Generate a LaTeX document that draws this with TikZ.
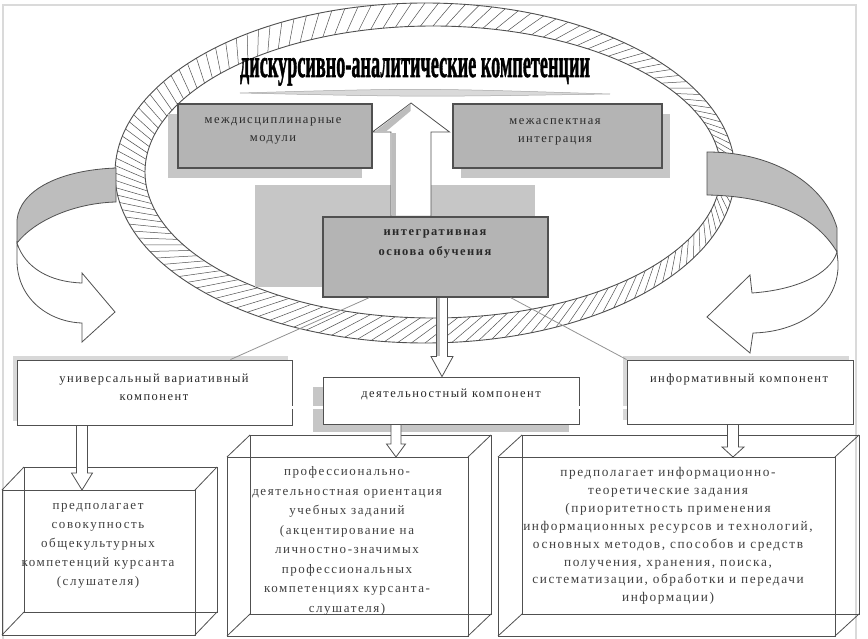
\documentclass[tikz,border=0pt]{standalone}
\usepackage{fontspec}
\usepackage{graphicx}
\setmainfont{Liberation Serif}
\newfontfamily\spc[LetterSpace=12]{Liberation Serif}
\newfontfamily\ttl[FakeBold=1.6]{Liberation Serif}
\usetikzlibrary{calc}
\definecolor{boxgrey}{HTML}{B4B4B4}
\definecolor{shadegrey}{HTML}{C6C6C6}
\definecolor{lightshade}{HTML}{D8D8D8}
\definecolor{edge}{HTML}{505050}
\definecolor{txt}{HTML}{2A2A2A}
\definecolor{txtb}{HTML}{404040}
\definecolor{framec}{HTML}{DADADA}
\definecolor{arrowgrey}{HTML}{BDBDBD}
\newcommand\downblk[5]{\path[blk] let \p1=(#1), \p2=(#2) in
  (\x2-#3pt,\y1) -- (\x2-#3pt,\y2+#5pt) -- (\x2-#4pt,\y2+#5pt) -- (\x2,\y2)
  -- (\x2+#4pt,\y2+#5pt) -- (\x2+#3pt,\y2+#5pt) -- (\x2+#3pt,\y1) -- cycle;}
\newcommand\upblk[5]{\path[blk] let \p1=(#1), \p2=(#2) in
  (\x2-#3pt,\y1) -- (\x2-#3pt,\y2-#5pt) -- (\x2-#4pt,\y2-#5pt) -- (\x2,\y2)
  -- (\x2+#4pt,\y2-#5pt) -- (\x2+#3pt,\y2-#5pt) -- (\x2+#3pt,\y1) -- cycle;}
\newcommand\cuboid[7]{%
  \draw[wire] (#1,#2) rectangle (#3,#4);
  \draw[wire] (#1+#5,#2+#6) rectangle (#3+#5,#4+#6);
  \draw[wire] (#1,#2) -- ++(#5,#6) (#3,#2) -- ++(#5,#6) (#1,#4) -- ++(#5,#6) (#3,#4) -- ++(#5,#6);
  \coordinate (#7) at ({(#1+#3)/2},#2);}
\begin{document}
\begin{tikzpicture}[x=1pt,y=-1pt,
  greybox/.style={draw=edge, fill=boxgrey, line width=1.2pt, inner sep=0pt},
  shadowbox/.style={fill=shadegrey, draw=none, inner sep=0pt},
  lshadow/.style={fill=lightshade, draw=none, inner sep=0pt},
  whitebox/.style={draw=edge, fill=white, line width=0.9pt, inner sep=0pt},
  lbl/.style={font=\spc\fontsize{12.5}{18}\selectfont, text=txt, align=center, inner sep=0pt},
  blbl/.style={font=\spc\fontsize{13}{19}\selectfont, text=txtb, align=center, inner sep=0pt},
  blk/.style={draw=edge, fill=white, line width=0.8pt, line join=miter},
  wire/.style={draw=edge, line width=0.8pt},
  thinln/.style={draw=gray!85, line width=0.8pt},
  dbl/.style={draw=gray!60!black, double=white, double distance=2.5pt, line width=0.6pt},
  curv/.style={draw=edge, line width=0.8pt}
]
\useasboundingbox (0,0) rectangle (868,639);
\fill[white] (0,0) rectangle (868,639);
% frame
\draw[framec, line width=2pt] (3,639) -- (3,5) -- (856,5) -- (856,639);

% ring (hatched ellipse)
\fill[white, even odd rule] (425,173) ellipse [x radius=310, y radius=170]
  (433,172) ellipse [x radius=288, y radius=146];
\foreach \a in {0,2.5,...,357.5}{
  \draw[edge, line width=0.5pt] ({433+288*cos(\a)},{172+146*sin(\a)}) -- ({425+310*cos(\a+5)},{173+170*sin(\a+5)});
}
\draw[edge, line width=0.9pt] (425,173) ellipse [x radius=310, y radius=170];
\draw[edge, line width=0.9pt] (433,172) ellipse [x radius=288, y radius=146];

% title
\node[anchor=base, inner sep=0pt] (title) at (415,77) {\resizebox{350pt}{19pt}{\ttl\bfseries дискурсивно-аналитические компетенции}};
\draw[gray!70, fill=gray!30, line width=0.5pt] (240,93) .. controls (420,88) .. (610,94) .. controls (420,97) .. (240,93) -- cycle;

% top grey boxes
\node[shadowbox, minimum width=194, minimum height=64] at (265,146) {};
\node[greybox, minimum width=194, minimum height=64] (m1) at (275,136) {};
\node[lbl] at (273,131) {междисциплинарные\\модули};
\node[shadowbox, minimum width=209, minimum height=64] at (565.5,146) {};
\node[greybox, minimum width=209, minimum height=64] (m2) at (557.5,136) {};
\node[lbl] at (555,132) {межаспектная\\интеграция};

% grey panel behind the central box
\fill[shadegrey] (255,185) rectangle (535,287);

% central box and up arrow
\node[greybox, minimum width=225, minimum height=80] (cent) at (435.5,257) {};
\coordinate (uptip) at (411,103);
\upblk{uptip |- cent.north}{uptip}{20}{38.5}{29}
\fill[arrowgrey] (392,133) rectangle (396,216);
\fill[arrowgrey] (375,131.5) -- (410.5,104) -- (410.5,111) -- (386,131.5) -- cycle;
\node[greybox, minimum width=225, minimum height=80] at (435.5,257) {};
\node[lbl, font=\spc\bfseries\fontsize{12.5}{20}\selectfont] at (435,244) {интегративная\\основа обучения};

% middle boxes
\node[lshadow, minimum width=275, minimum height=65] at (150.5,388.5) {};
\node[whitebox, minimum width=275, minimum height=65] (uni) at (154.5,392.5) {};
\node[lbl] at (154,387) {универсальный вариативный\\компонент};
\node[shadowbox, minimum width=256, minimum height=45] at (441,409.5) {};
\node[whitebox, minimum width=256, minimum height=47] (deya) at (451,400.5) {};
\node[lbl] at (451,394) {деятельностный компонент};
\node[lshadow, minimum width=226, minimum height=64] at (736,388) {};
\node[whitebox, minimum width=226, minimum height=64] (info) at (740,392) {};
\node[lbl] at (739,379) {информативный компонент};

\draw[dbl] ([yshift=-7pt]deya.west) -- ([yshift=-7pt]deya.west -| uni.east);
\draw[dbl] ([yshift=-7pt]deya.east) -- ([yshift=-7pt]deya.east -| info.west);

% thin lines from central box
\draw[thinln] ([xshift=47pt]cent.south west) -- ([xshift=-62pt]uni.north east);
\draw[thinln] ([xshift=-38pt]cent.south east) -- (info.north west);

% central down arrow
\coordinate (dtip) at ([xshift=-9pt]deya.north);
\downblk{dtip |- cent.south}{dtip}{5.5}{11}{20}
\fill[arrowgrey] (436.9,298) rectangle (440,356);

% left curved arrow
\path[curv, fill=arrowgrey] (116,168) .. controls (60,170) and (20,190) .. (17,220)
  -- (17,243) .. controls (35,220) and (75,203) .. (116,202) -- cycle;
\path[curv, fill=white] (17,243) -- (17,262) .. controls (18,300) and (50,322) .. (82,323)
  -- (82,342) -- (115,312) -- (82,273) -- (82,283)
  .. controls (50,282) and (25,268) .. (17,243) -- cycle;

% right curved arrow
\path[curv, fill=arrowgrey] (707,152) .. controls (775,152) and (825,185) .. (837,228)
  -- (837,252) .. controls (815,215) and (770,196) .. (707,195) -- cycle;
\path[curv, fill=white] (837,252) -- (838,262) .. controls (840,305) and (800,332) .. (753,333)
  -- (750,353) -- (707,317) -- (750,275) -- (752,293)
  .. controls (795,290) and (830,275) .. (837,252) -- cycle;

% 3D boxes
\cuboid{2}{490}{195}{635}{22}{-23}{c1}
\cuboid{227}{457}{468}{636}{23}{-22}{c2}
\cuboid{498}{457}{835}{636}{24}{-22}{c3}

\node[blbl] at (98,546) {предполагает\\совокупность\\общекультурных\\компетенций курсанта\\(слушателя)};
\node[blbl, font=\spc\fontsize{13}{19.5}\selectfont] at (347,541) {профессионально-\\деятельностная ориентация\\учебных заданий\\(акцентирование на\\личностно-значимых\\профессиональных\\компетенциях курсанта-\\слушателя)};
\node[blbl, font=\spc\fontsize{13.3}{17.9}\selectfont] at (668,536) {предполагает информационно-\\теоретические задания\\(приоритетность применения\\информационных ресурсов и технологий,\\основных методов, способов и средств\\получения, хранения, поиска,\\систематизации, обработки и передачи\\информации)};

% small down arrows
\coordinate (t1) at ([xshift=-16.5pt]c1);
\downblk{t1 |- uni.south}{t1}{5.5}{10.5}{17}
\coordinate (t2) at ([xshift=48.5pt]c2);
\downblk{t2 |- deya.south}{t2}{5}{9.5}{13}
\coordinate (t3) at ([xshift=66.5pt]c3);
\downblk{t3 |- info.south}{t3}{5.5}{11}{10}
\end{tikzpicture}
\end{document}
